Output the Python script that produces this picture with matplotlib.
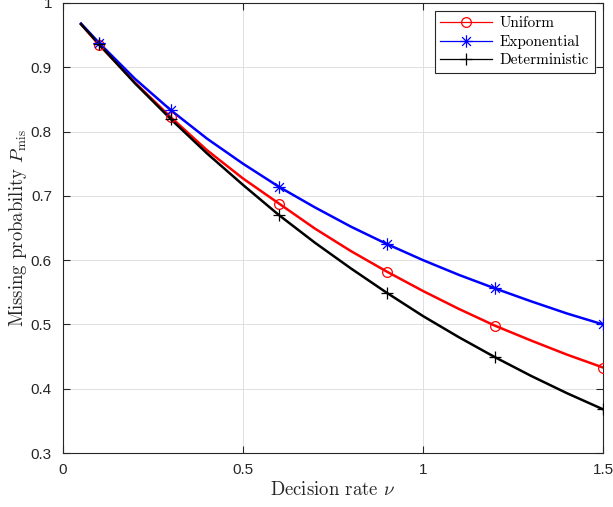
import matplotlib
matplotlib.use("Agg")
import matplotlib.pyplot as plt
from matplotlib.path import Path
from matplotlib.ticker import FormatStrFormatter

# read-off values (decision rate vs missing probability)
nu = [0.05, 0.1, 0.2, 0.3, 0.4, 0.5, 0.6, 0.7, 0.8, 0.9, 1.0, 1.1, 1.2, 1.3, 1.4, 1.5]
p_uniform = [0.967, 0.935, 0.876, 0.822, 0.771, 0.727, 0.688, 0.649, 0.614,
             0.582, 0.552, 0.524, 0.498, 0.475, 0.453, 0.433]
p_expo = [0.968, 0.938, 0.882, 0.833, 0.789, 0.750, 0.714, 0.682, 0.652,
          0.625, 0.600, 0.577, 0.556, 0.536, 0.517, 0.500]
p_det = [0.967, 0.936, 0.875, 0.819, 0.766, 0.717, 0.670, 0.627, 0.587,
         0.549, 0.513, 0.480, 0.449, 0.420, 0.393, 0.368]

# marker positions
nu_mk = [0.1, 0.3, 0.6, 0.9, 1.2, 1.5]
mk_uniform = [0.935, 0.822, 0.688, 0.582, 0.498, 0.433]
mk_expo = [0.938, 0.833, 0.714, 0.625, 0.556, 0.500]
mk_det = [0.936, 0.819, 0.670, 0.549, 0.449, 0.368]

# MATLAB-style asterisk: plus and cross overlaid
d = 0.7071
asterisk = Path(
    [(-1, 0), (1, 0), (0, -1), (0, 1), (-d, -d), (d, d), (-d, d), (d, -d)],
    [Path.MOVETO, Path.LINETO] * 4,
)

plt.rcParams['mathtext.fontset'] = 'cm'
plt.rcParams['font.family'] = ['Liberation Sans', 'DejaVu Sans']
plt.rcParams['axes.unicode_minus'] = False

fig = plt.figure(figsize=(6.13, 5.07), dpi=100)
ax = fig.add_axes([0.1028, 0.1065, 0.8809, 0.8876])

series = [
    (p_uniform, mk_uniform, "red", "o", 7, "Uniform"),
    (p_expo, mk_expo, "blue", asterisk, 9, "Exponential"),
    (p_det, mk_det, "black", "+", 9, "Deterministic"),
]
for curve, mk, color, marker, ms, name in series:
    ax.plot(nu, curve, color=color, linewidth=1.8, zorder=3)
    ax.plot(nu_mk, mk, linestyle="none", marker=marker, color=color,
            markerfacecolor="none", markersize=ms, markeredgewidth=0.9, zorder=4)

# legend proxies (thin line + marker)
handles = []
for curve, mk, color, marker, ms, name in series:
    h, = ax.plot([], [], color=color, linewidth=0.9, marker=marker,
                 markerfacecolor="none", markersize=ms,
                 markeredgewidth=0.9, label=name)
    handles.append(h)

ax.set_xlim(0, 1.5)
ax.set_ylim(0.3, 1.0)
ax.set_xticks([0, 0.5, 1, 1.5])
ax.set_yticks([0.3, 0.4, 0.5, 0.6, 0.7, 0.8, 0.9, 1.0])
ax.xaxis.set_major_formatter(FormatStrFormatter('%g'))
ax.yaxis.set_major_formatter(FormatStrFormatter('%g'))
ax.tick_params(direction="in", top=True, right=True, length=5, width=0.8,
               labelsize=11, colors="#262626")
ax.tick_params(axis="x", pad=7)
ax.tick_params(axis="y", pad=8)
for s in ax.spines.values():
    s.set_color("#262626")
    s.set_linewidth(0.8)
ax.grid(True, color="#e0e0e0", linewidth=0.7)
ax.set_axisbelow(True)

ax.set_xlabel(r"Decision rate $\nu$", fontname="cmr10", fontsize=13.5,
              labelpad=3, color="#262626")
ax.set_ylabel(r"Missing probability $P_{\mathrm{mis}}$", fontname="cmr10",
              fontsize=13.5, labelpad=1, color="#262626")

leg = ax.legend(handles=handles, loc="upper right", fancybox=False,
                framealpha=1, edgecolor="#262626",
                prop={"family": "cmr10", "size": 11},
                handlelength=3.4, borderaxespad=0.55, labelspacing=0.3,
                borderpad=0.35, handletextpad=0.5)
leg.get_frame().set_linewidth(0.8)

fig.savefig("out.png", dpi=100)
